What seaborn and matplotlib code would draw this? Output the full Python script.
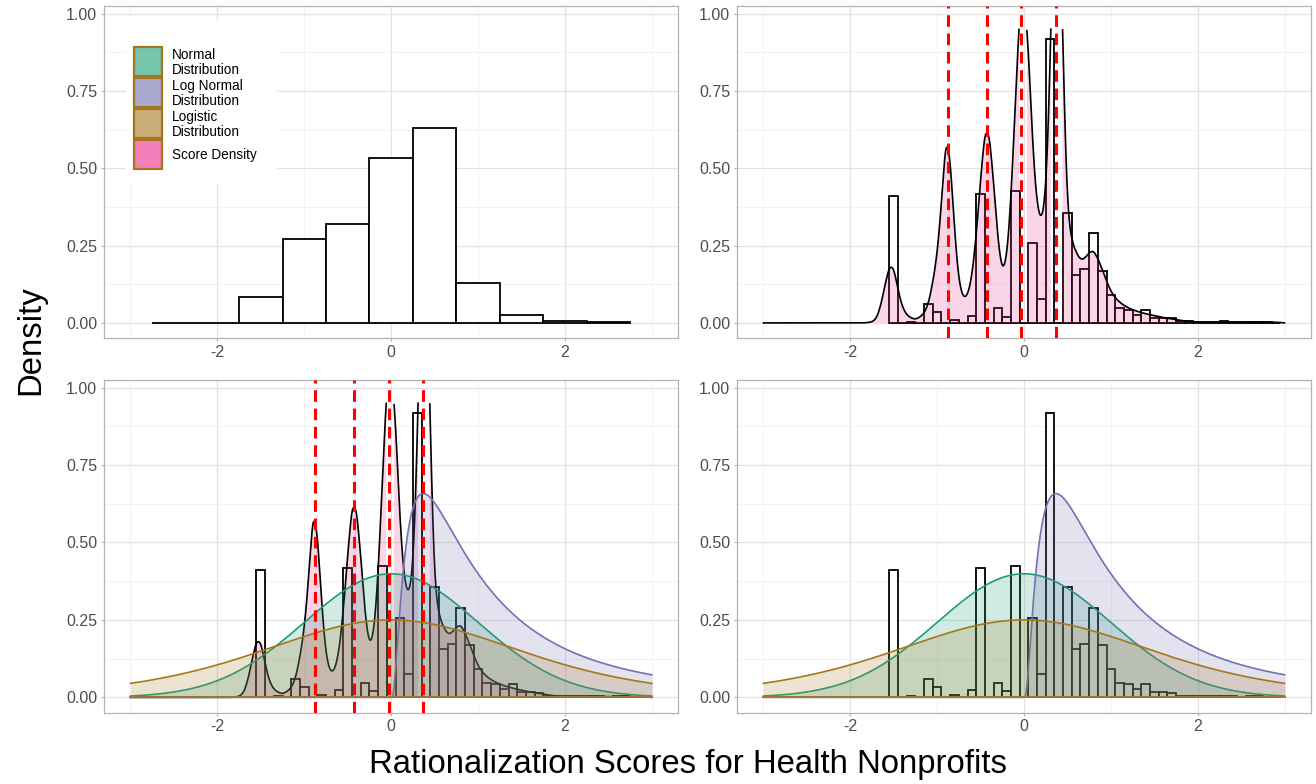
import numpy as np
import pandas as pd
import matplotlib
matplotlib.use("Agg")
import matplotlib.pyplot as plt
import seaborn as sns
from matplotlib.patches import Rectangle
from matplotlib.colors import to_rgb

# ---------------- data ----------------
# coarse histogram (top-left), binwidth 0.5
coarse_centers = [-2.5, -2.0, -1.5, -1.0, -0.5, 0.0, 0.5, 1.0, 1.5, 2.0, 2.5]
coarse_density = [0.0, 0.0, 0.083, 0.272, 0.321, 0.532, 0.631, 0.128, 0.024, 0.005, 0.003]
coarse_width = 0.5

# fine histogram (binwidth 0.1)
fine_centers = [-1.5, -1.4, -1.3, -1.2, -1.1, -1.0, -0.9, -0.8, -0.7, -0.6,
                -0.5, -0.4, -0.3, -0.2, -0.1, 0.0, 0.1, 0.2, 0.3, 0.4,
                0.5, 0.6, 0.7, 0.8, 0.9, 1.0, 1.1, 1.2, 1.3, 1.4,
                1.5, 1.6, 1.7, 1.8, 1.9, 2.0, 2.1, 2.2, 2.3, 2.4,
                2.5, 2.6, 2.7, 2.8, 2.9]
fine_density = [0.410, 0.0, 0.003, 0.0, 0.060, 0.035, 0.0, 0.009, 0.0, 0.023,
                0.417, 0.0, 0.047, 0.019, 0.425, 0.0, 0.257, 0.076, 0.919, 0.0,
                0.355, 0.155, 0.173, 0.289, 0.169, 0.091, 0.047, 0.043, 0.027, 0.042,
                0.016, 0.016, 0.015, 0.005, 0.005, 0.004, 0.003, 0.003, 0.006, 0.003,
                0.002, 0.003, 0.004, 0.002, 0.001]
fine_width = 0.1

# score density: density read at score levels (step 0.05)
score_levels = np.round(np.arange(-1.85, 2.951, 0.05), 2)
score_density_read = [
    0.000, 0.001, 0.003, 0.012, 0.052, 0.120, 0.183, 0.180, 0.105, 0.050,
    0.025, 0.016, 0.011, 0.018, 0.030, 0.060, 0.128, 0.215, 0.375, 0.600,
    0.535, 0.295, 0.130, 0.078, 0.085, 0.145, 0.275, 0.455, 0.620, 0.610,
    0.450, 0.260, 0.160, 0.200, 0.385, 0.710, 1.000,
    1.070, 0.880, 0.560, 0.370, 0.320, 0.400, 0.780, 1.500, 1.550, 0.820,
    0.350, 0.260, 0.225, 0.200, 0.205, 0.225, 0.232, 0.205, 0.172, 0.133,
    0.100, 0.080, 0.066, 0.056, 0.048, 0.042, 0.037, 0.033, 0.029, 0.026,
    0.023, 0.020, 0.017, 0.015, 0.013, 0.011, 0.008, 0.006, 0.004, 0.003,
    0.0025, 0.0025, 0.0025, 0.0025, 0.0025, 0.0025, 0.0025, 0.0025, 0.0025,
    0.0025, 0.0025, 0.0025, 0.0025, 0.0025, 0.0025, 0.0025, 0.0025, 0.0025,
    0.002, 0.001]
score_bandwidth = 0.03
score_top_limit = 0.955

# theoretical distributions
normal_mean, normal_sd = 0.0, 1.0
lognormal_meanlog, lognormal_sdlog = 0.0, 1.0
logistic_location, logistic_scale = 0.0, 1.0

# modes marked with dashed lines
mode_lines = [-0.88, -0.43, -0.03, 0.37]

legend_labels = ["Normal\nDistribution", "Log Normal\nDistribution",
                 "Logistic\nDistribution", "Score Density"]

# ---------------- style ----------------
c_normal, c_lognormal, c_logistic, c_score = "#1B9E77", "#7570B3", "#A6761D", "#E7298A"

sns.set_style("whitegrid")
plt.rcParams["font.family"] = ["Liberation Sans", "DejaVu Sans"]
plt.rcParams["axes.unicode_minus"] = False

W, H = 1316, 784
fig = plt.figure(figsize=(W / 100, H / 100), dpi=100)


def rect(left, top, right, bottom):
    return [left / W, 1 - bottom / H, (right - left) / W, (bottom - top) / H]


ax_tl = fig.add_axes(rect(104.3, 6, 678.1, 338))
ax_tr = fig.add_axes(rect(737.2, 6, 1310.8, 338))
ax_bl = fig.add_axes(rect(104.3, 380, 678.1, 712.5))
ax_br = fig.add_axes(rect(737.2, 380, 1310.8, 712.5))

xs = np.linspace(-3, 3, 601)
normal_pdf = np.exp(-0.5 * ((xs - normal_mean) / normal_sd) ** 2) / (normal_sd * np.sqrt(2 * np.pi))
pos = xs > 0
xp = np.where(pos, xs, 1.0)
lognormal_pdf = np.where(
    pos,
    np.exp(-0.5 * ((np.log(xp) - lognormal_meanlog) / lognormal_sdlog) ** 2)
    / (xp * lognormal_sdlog * np.sqrt(2 * np.pi)),
    0.0)
zz = (xs - logistic_location) / logistic_scale
logistic_pdf = np.exp(-zz) / (logistic_scale * (1 + np.exp(-zz)) ** 2)

score_x = np.asarray(score_levels, dtype=float)
score_w = np.array(score_density_read) * 0.05
score_std = np.sqrt(np.cov(score_x, aweights=score_w))
bw_factor = float(score_bandwidth / score_std)


def edges_from(centers, width):
    c = np.asarray(centers, dtype=float)
    return [float(v) for v in np.round(np.append(c - width / 2, c[-1] + width / 2), 3)]


def style(ax):
    ax.set_xlim(-3.3, 3.3)
    ax.set_ylim(-0.0488, 1.0244)
    ax.set_xticks([-2, 0, 2])
    ax.set_xticklabels(["-2", "0", "2"])
    ax.set_xticks([-3, -1, 1, 3], minor=True)
    ax.set_yticks([0, 0.25, 0.5, 0.75, 1.0])
    ax.set_yticklabels(["0.00", "0.25", "0.50", "0.75", "1.00"])
    ax.set_yticks([0.125, 0.375, 0.625, 0.875], minor=True)
    ax.set_axisbelow(True)
    ax.grid(which="major", color="#E2E2E2", linewidth=0.9)
    ax.grid(which="minor", color="#F0F0F0", linewidth=0.6)
    ax.tick_params(which="major", length=2.5, width=0.8, color="#B3B3B3",
                   labelsize=11.5, labelcolor="#4D4D4D", pad=2.5,
                   bottom=True, left=True)
    ax.tick_params(which="minor", length=0)
    for s in ax.spines.values():
        s.set_color("#B3B3B3")
        s.set_linewidth(0.9)
    ax.set_xlabel("")
    ax.set_ylabel("")


def draw_hist(ax, centers, heights, width):
    df = pd.DataFrame({"score": list(centers), "dens": list(heights)})
    sns.histplot(data=df, x="score", weights="dens", bins=edges_from(centers, width),
                 stat="count", color="white", edgecolor="black", linewidth=1.3,
                 alpha=1, ax=ax, zorder=1)


def draw_score(ax, z):
    sns.kdeplot(x=score_x, weights=score_w, bw_method=bw_factor, cut=80,
                clip=(-3, 3), gridsize=2001, color="black", linewidth=1.2,
                ax=ax, zorder=z + 0.1)
    line = ax.lines[-1]
    xk = np.asarray(line.get_xdata())
    yk = np.asarray(line.get_ydata())
    ym = np.where(yk > score_top_limit, np.nan, yk)
    line.set_ydata(ym)
    ok = ~np.isnan(ym)
    ax.fill_between(xk, 0, np.where(ok, ym, 0), where=ok, facecolor=c_score,
                    alpha=0.2, linewidth=0, zorder=z)


def draw_dist(ax, y, color, z):
    ax.fill_between(xs, 0, y, facecolor=color, alpha=0.2, linewidth=0, zorder=z)
    sns.lineplot(x=xs, y=y, color=color, linewidth=1.2, ax=ax, zorder=z + 0.1,
                 estimator=None, sort=False)
    sns.lineplot(x=xs, y=np.zeros_like(xs), color=color, linewidth=1.2, ax=ax,
                 zorder=z + 0.1, estimator=None, sort=False)


def draw_modes(ax):
    for v in mode_lines:
        ax.axvline(v, color="#FF0000", linewidth=2.2, linestyle=(0, (3.8, 2.2)), zorder=10)


# top-left
draw_hist(ax_tl, coarse_centers, coarse_density, coarse_width)
# top-right
draw_hist(ax_tr, fine_centers, fine_density, fine_width)
draw_score(ax_tr, 2)
draw_modes(ax_tr)
# bottom-left
draw_hist(ax_bl, fine_centers, fine_density, fine_width)
draw_score(ax_bl, 2)
draw_dist(ax_bl, normal_pdf, c_normal, 3)
draw_dist(ax_bl, lognormal_pdf, c_lognormal, 4)
draw_dist(ax_bl, logistic_pdf, c_logistic, 5)
draw_modes(ax_bl)
# bottom-right
draw_hist(ax_br, fine_centers, fine_density, fine_width)
draw_dist(ax_br, normal_pdf, c_normal, 3)
draw_dist(ax_br, lognormal_pdf, c_lognormal, 4)
draw_dist(ax_br, logistic_pdf, c_logistic, 5)

for ax in (ax_tl, ax_tr, ax_bl, ax_br):
    style(ax)


# ---------------- legend (inside the top-left panel) ----------------
def key_color(c, a=0.6):
    r = np.array(to_rgb(c))
    return tuple(a * r + (1 - a))


def px_rect(x0, y0, w, h, **kw):
    return Rectangle((x0 / W, 1 - (y0 + h) / H), w / W, h / H,
                     transform=fig.transFigure, **kw)


fig.add_artist(px_rect(126, 20, 151, 163, facecolor="white", edgecolor="none", zorder=5))
key_tops = [46.5, 77.5, 108.5, 139.5]
key_h, key_w = 29.5, 28
for top, c, lab in zip(key_tops, [c_normal, c_lognormal, c_logistic, c_score], legend_labels):
    fig.add_artist(px_rect(134, top, key_w, key_h, facecolor=key_color(c),
                           edgecolor=c_logistic, linewidth=1.6, zorder=6))
    cy = top + key_h / 2 + (1.0 if "\n" in lab else 0.5)
    fig.text(172 / W, 1 - cy / H, lab, ha="left", va="center", fontsize=9.8,
             linespacing=1.12, color="black", zorder=7)

fig.text(688 / W, 1 - 765 / H, "Rationalization Scores for Health Nonprofits",
         ha="center", va="center", fontsize=23.7, color="black")
fig.text(31 / W, 1 - 340 / H, "Density", rotation=90, ha="center", va="center",
         fontsize=23.7, color="black")

fig.savefig("out.png", dpi=100)
